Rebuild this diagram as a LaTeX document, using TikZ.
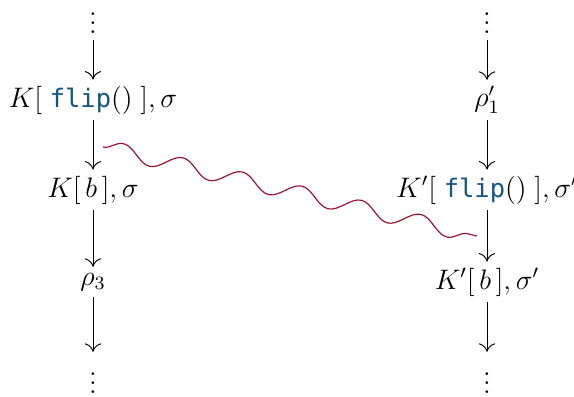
\documentclass[tikz,border=0pt]{standalone}
\usepackage{fontspec}
\setmonofont[Scale=0.9]{DejaVu Sans Mono}
\usetikzlibrary{arrows.meta,decorations.pathmorphing}
\definecolor{flipblue}{RGB}{20,85,130}
\definecolor{wavered}{RGB}{155,20,45}
\newcommand{\flipcall}{\;\textcolor{flipblue}{\texttt{flip}}()\;}
\begin{document}
\begin{tikzpicture}[x=0.4251pt,y=-0.4251pt,
  st/.style={inner sep=2.5pt, font=\fontsize{12}{14}\selectfont},
  stepar/.style={-{Computer Modern Rightarrow[length=3.6pt,width=7pt]}, line width=0.4pt},
  wave/.style={draw=wavered, line width=0.5pt, decorate,
    decoration={snake, segment length=26pt, amplitude=3.4pt}}]
\useasboundingbox (0,0) rectangle (574,396);
\node[st] (l0) at (93,16) {$\vdots$};
\node[st] (l1) at (93,100) {$K[\flipcall], \sigma$};
\node[st] (l2) at (93,190) {$K[\,b\,], \sigma$};
\node[st] (l3) at (93,282) {$\rho_3$};
\node[st] (l4) at (93,376) {$\vdots$};
\node[st] (r0) at (487,16) {$\vdots$};
\node[st] (r1) at (487,100) {$\rho'_1$};
\node[st] (r2) at (487,190) {$K'[\flipcall], \sigma'$};
\node[st] (r3) at (487,282) {$K'[\,b\,], \sigma'$};
\node[st] (r4) at (487,376) {$\vdots$};
\foreach \a/\b in {l0/l1,l1/l2,l2/l3,l3/l4,r0/r1,r1/r2,r2/r3,r3/r4}
  \draw[stepar] (\a) -- (\b);
\coordinate (w1) at (103,147);
\coordinate (w2) at (477,236);
\draw[wave] (w1) -- (w2);
\end{tikzpicture}
\end{document}
